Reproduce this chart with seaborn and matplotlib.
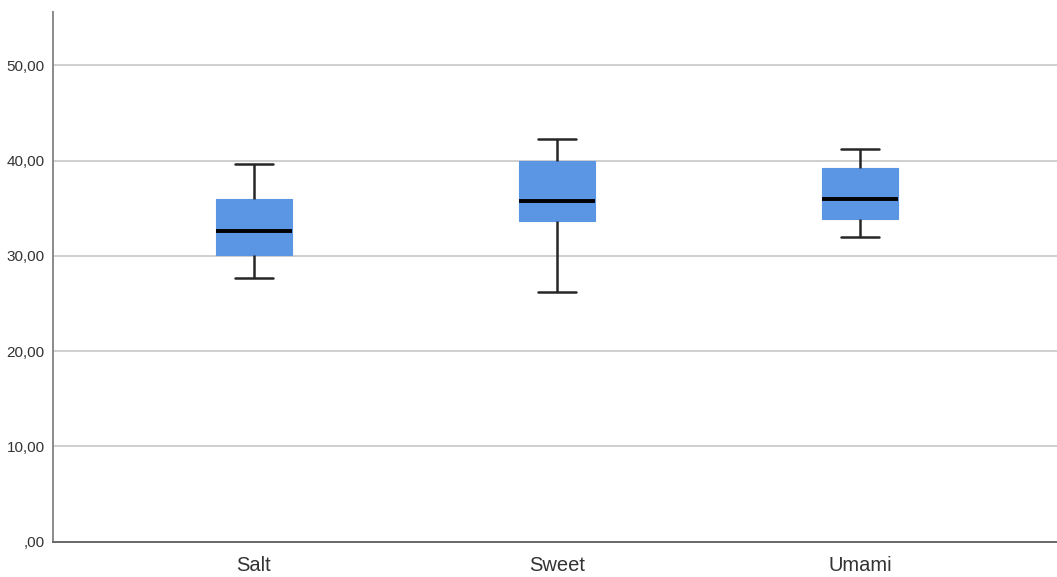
import numpy as np
import pandas as pd
import matplotlib
matplotlib.use("Agg")
import matplotlib.pyplot as plt
import seaborn as sns

# ---------------------------------------------------------------
# data: five-number summary per taste (min, Q1, median, Q3, max)
# ---------------------------------------------------------------
tastes = ["Salt", "Sweet", "Umami"]
salt_vals = [27.63, 30.07, 32.62, 36.02, 39.62]
sweet_vals = [26.22, 33.67, 35.81, 39.93, 42.31]
umami_vals = [31.93, 33.85, 35.95, 39.23, 41.27]

y_ticks = [0, 10, 20, 30, 40, 50]
y_tick_labels = [",00", "10,00", "20,00", "30,00", "40,00", "50,00"]

df = pd.DataFrame({
    "taste": np.repeat(tastes, 5),
    "value": salt_vals + sweet_vals + umami_vals,
})

# ---------------------------------------------------------------
# plot
# ---------------------------------------------------------------
sns.set_style("white")
plt.rcParams["font.family"] = ["Liberation Sans", "DejaVu Sans"]

fig = plt.figure(figsize=(10.57, 5.77), dpi=100)
ax = fig.add_axes([0.0501, 0.0612, 0.9499, 0.918])

box_blue = "#5a96e3"
sns.boxplot(
    data=df, x="taste", y="value", ax=ax, order=tastes,
    whis=(0, 100), width=0.25, color=box_blue, saturation=1,
    boxprops=dict(facecolor=box_blue, edgecolor=box_blue, linewidth=0.8),
    medianprops=dict(color="black", linewidth=2.8),
    whiskerprops=dict(color="#262626", linewidth=1.8),
    capprops=dict(color="#262626", linewidth=1.8),
    showfliers=False, zorder=3,
)

ax.set_ylim(0, 55.6)
ax.set_xlim(-0.663, 2.65)
ax.set_yticks(y_ticks)
ax.set_yticklabels(y_tick_labels, fontsize=11, color="#333333")
ax.tick_params(axis="x", labelsize=14.5, colors="#333333", length=0, pad=10)
ax.tick_params(axis="y", length=0, pad=6)
for lab in ax.get_xticklabels():
    lab.set_color("#333333")

ax.yaxis.grid(True, color="#cfcfcf", linewidth=1.4, zorder=0)
ax.set_axisbelow(True)
ax.set_xlabel("")
ax.set_ylabel("")

sns.despine(ax=ax, top=True, right=True)
ax.spines["left"].set_color("#8a8a8a")
ax.spines["left"].set_linewidth(1.4)
ax.spines["bottom"].set_color("#6a6a6a")
ax.spines["bottom"].set_linewidth(1.4)

fig.savefig("out.png", dpi=100)
